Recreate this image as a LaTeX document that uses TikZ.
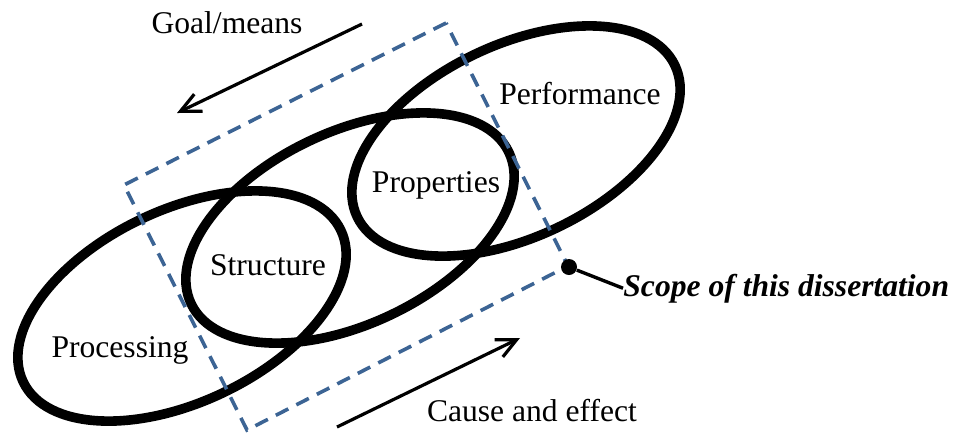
\documentclass[tikz,border=0pt]{standalone}
\usepackage{fontspec}
\setmainfont{Liberation Serif}
\usetikzlibrary{arrows.meta}
\definecolor{scopeblue}{RGB}{60,100,148}

\begin{document}
\begin{tikzpicture}[x=0.5pt, y=-0.5pt,
    concept/.style={line width=4.8pt},
    label text/.style={font=\fontsize{15.8}{19}\selectfont, inner sep=0, anchor=base},
    flow/.style={line width=1.6pt, -{Straight Barb[length=10pt, width=9.5pt]}},
    scopebox/.style={draw=scopeblue, line width=1.8pt, dash pattern=on 7pt off 4.5pt}]

    \useasboundingbox (0,0) rectangle (956,436);

    % Ellipses
    \draw[concept] (182,306) ellipse [x radius=88pt, y radius=48pt, rotate=25.5];
    \draw[concept] (350,228) ellipse [x radius=88pt, y radius=48pt, rotate=25.5];
    \draw[concept] (516,141) ellipse [x radius=88pt, y radius=48pt, rotate=25.5];

    % Scope
    \draw[scopebox] (446,23) -- (124,185) -- (247,430) -- (568,266) -- cycle;

    % Labels
    \node[label text] (goal) at (227,33) {Goal/means};
    \node[label text] (performance) at (580,104) {Performance};
    \node[label text] (properties) at (436,192) {Properties};
    \node[label text] (structure) at (268,275) {Structure};
    \node[label text] (processing) at (120,357) {Processing};
    \node[label text] (cause) at (532,421) {Cause and effect};
    \node[label text, anchor=base west,
    font=\fontsize{15.8}{19}\selectfont\bfseries\itshape] (scope) at (623,296)
    {Scope of this dissertation};

    % Dot
    \node[circle, fill, inner sep=0, minimum size=8pt] (dot) at (569,267) {};
    \draw[line width=1.7pt] (dot) -- (scope.west);

    % Arrows
    \coordinate (goal start) at (362,24);
    \coordinate (goal end) at (177,113);
    \coordinate (cause start) at (337,427);
    \coordinate (cause end) at (520,338);
    \draw[flow] (goal start) -- (goal end);
    \draw[flow] (cause start) -- (cause end);

\end{tikzpicture}
\end{document}
